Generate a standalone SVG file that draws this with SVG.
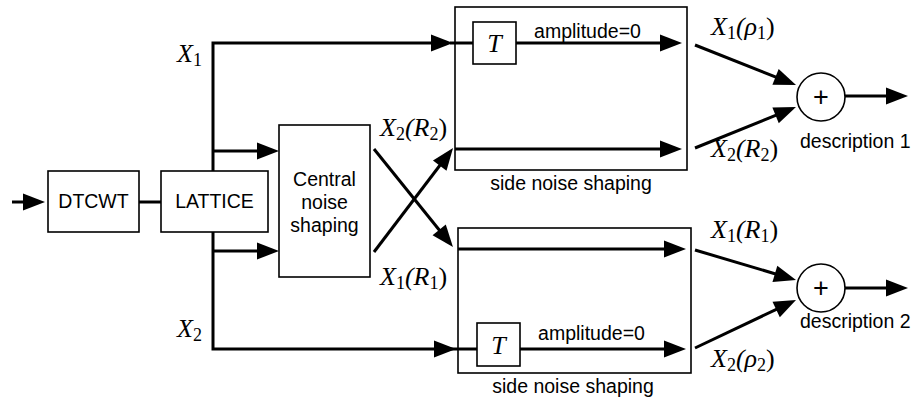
<svg xmlns="http://www.w3.org/2000/svg" width="912" height="398" viewBox="0 0 912 398">
<defs>
<marker id="ah" markerUnits="userSpaceOnUse" markerWidth="24" markerHeight="18" refX="12" refY="8.5" orient="auto" overflow="visible">
<path d="M0,0 L22,8.5 L0,17 z" fill="#000"/>
</marker>
<style>
.box{fill:#fff;stroke:#000;stroke-width:1.6}
.c{fill:none;stroke:#000;stroke-width:3}
.a{fill:none;stroke:#000;stroke-width:3;marker-end:url(#ah)}
.t{font-family:"Liberation Sans",Arial,sans-serif;font-size:19.5px;fill:#000}
.p{font-family:"Liberation Sans",Arial,sans-serif;font-size:27px;fill:#000}
.m{font-family:"Liberation Serif","Times New Roman",serif;font-style:italic;font-size:26px;fill:#000}
.s{font-style:normal;font-size:18px}
</style>
</defs>
<rect width="912" height="398" fill="#fff"/>
<g id="connectors">
<line class="a" x1="12" y1="202" x2="35" y2="202"/>
<line class="c" x1="139" y1="202" x2="161" y2="202"/>
<path class="a" d="M213,171 V43 H443"/>
<line class="c" x1="450" y1="43" x2="473" y2="43"/>
<path class="a" d="M213,232 V349 H446"/>
<line class="c" x1="450" y1="349" x2="477" y2="349"/>
<line class="a" x1="213" y1="151" x2="269" y2="151"/>
<line class="a" x1="213" y1="251" x2="269" y2="251"/>
<line class="a" x1="374" y1="149" x2="446.7" y2="239.2"/>
<line class="a" x1="374" y1="252" x2="447" y2="156"/>
<line class="a" x1="516" y1="43" x2="672" y2="43"/>
<line class="a" x1="455" y1="149" x2="672" y2="149"/>
<line class="a" x1="458" y1="249" x2="676" y2="249"/>
<line class="a" x1="520" y1="349" x2="676" y2="349"/>
<line class="a" x1="695" y1="45" x2="786.7" y2="81.3"/>
<line class="a" x1="695" y1="148" x2="786.7" y2="110.8"/>
<line class="a" x1="695" y1="250" x2="786.4" y2="277.2"/>
<line class="a" x1="695" y1="348" x2="787" y2="304.3"/>
<line class="a" x1="845" y1="96" x2="898" y2="96"/>
<line class="a" x1="845" y1="288" x2="898" y2="288"/>
</g>
<g id="dtcwt">
<rect class="box" x="48" y="171" width="91" height="61"/>
<text class="t" x="93.5" y="208" text-anchor="middle">DTCWT</text>
</g>
<g id="lattice">
<rect class="box" x="161" y="171" width="107" height="61"/>
<text class="t" x="214.5" y="208" text-anchor="middle">LATTICE</text>
</g>
<g id="central">
<rect class="box" x="279" y="125" width="91" height="152"/>
<text class="t" x="324.5" y="185.5" text-anchor="middle">Central</text>
<text class="t" x="324.5" y="208.5" text-anchor="middle">noise</text>
<text class="t" x="324.5" y="231.5" text-anchor="middle">shaping</text>
</g>
<g id="side1">
<rect x="455" y="7" width="232" height="163" fill="none" stroke="#000" stroke-width="1.6"/>
<text class="t" x="571" y="190" text-anchor="middle">side noise shaping</text>
</g>
<g id="t1">
<rect class="box" x="473" y="22" width="43" height="42"/>
<text class="m" x="494.5" y="52" text-anchor="middle">T</text>
<text class="t" x="587.5" y="38" text-anchor="middle">amplitude=0</text>
</g>
<g id="side2">
<rect x="458" y="228" width="233" height="145" fill="none" stroke="#000" stroke-width="1.6"/>
<text class="t" x="573" y="393" text-anchor="middle">side noise shaping</text>
</g>
<g id="t2">
<rect class="box" x="477" y="323" width="43" height="43"/>
<text class="m" x="498.5" y="354" text-anchor="middle">T</text>
<text class="t" x="591.5" y="340" text-anchor="middle">amplitude=0</text>
</g>
<g id="sum1">
<circle cx="821" cy="97" r="24" fill="#fff" stroke="#000" stroke-width="1.6"/>
<text class="p" x="821" y="106" text-anchor="middle">+</text>
<text class="t" x="800" y="148">description 1</text>
</g>
<g id="sum2">
<circle cx="821" cy="288" r="24" fill="#fff" stroke="#000" stroke-width="1.6"/>
<text class="p" x="821" y="297" text-anchor="middle">+</text>
<text class="t" x="800" y="328">description 2</text>
</g>
<g id="labels">
<text class="m" x="177" y="62">X<tspan class="s" dy="4">1</tspan></text>
<text class="m" x="177" y="337">X<tspan class="s" dy="4">2</tspan></text>
<text class="m" x="380" y="136">X<tspan class="s" dy="4">2</tspan><tspan dy="-4">(R</tspan><tspan class="s" dy="4">2</tspan><tspan dy="-4" font-style="normal">)</tspan></text>
<text class="m" x="380" y="285">X<tspan class="s" dy="4">1</tspan><tspan dy="-4">(R</tspan><tspan class="s" dy="4">1</tspan><tspan dy="-4" font-style="normal">)</tspan></text>
<text class="m" x="711" y="35">X<tspan class="s" dy="4">1</tspan><tspan dy="-4">(ρ</tspan><tspan class="s" dy="4">1</tspan><tspan dy="-4" font-style="normal">)</tspan></text>
<text class="m" x="711" y="157">X<tspan class="s" dy="4">2</tspan><tspan dy="-4">(R</tspan><tspan class="s" dy="4">2</tspan><tspan dy="-4" font-style="normal">)</tspan></text>
<text class="m" x="711" y="238">X<tspan class="s" dy="4">1</tspan><tspan dy="-4">(R</tspan><tspan class="s" dy="4">1</tspan><tspan dy="-4" font-style="normal">)</tspan></text>
<text class="m" x="711" y="367">X<tspan class="s" dy="4">2</tspan><tspan dy="-4">(ρ</tspan><tspan class="s" dy="4">2</tspan><tspan dy="-4" font-style="normal">)</tspan></text>
</g>
</svg>
